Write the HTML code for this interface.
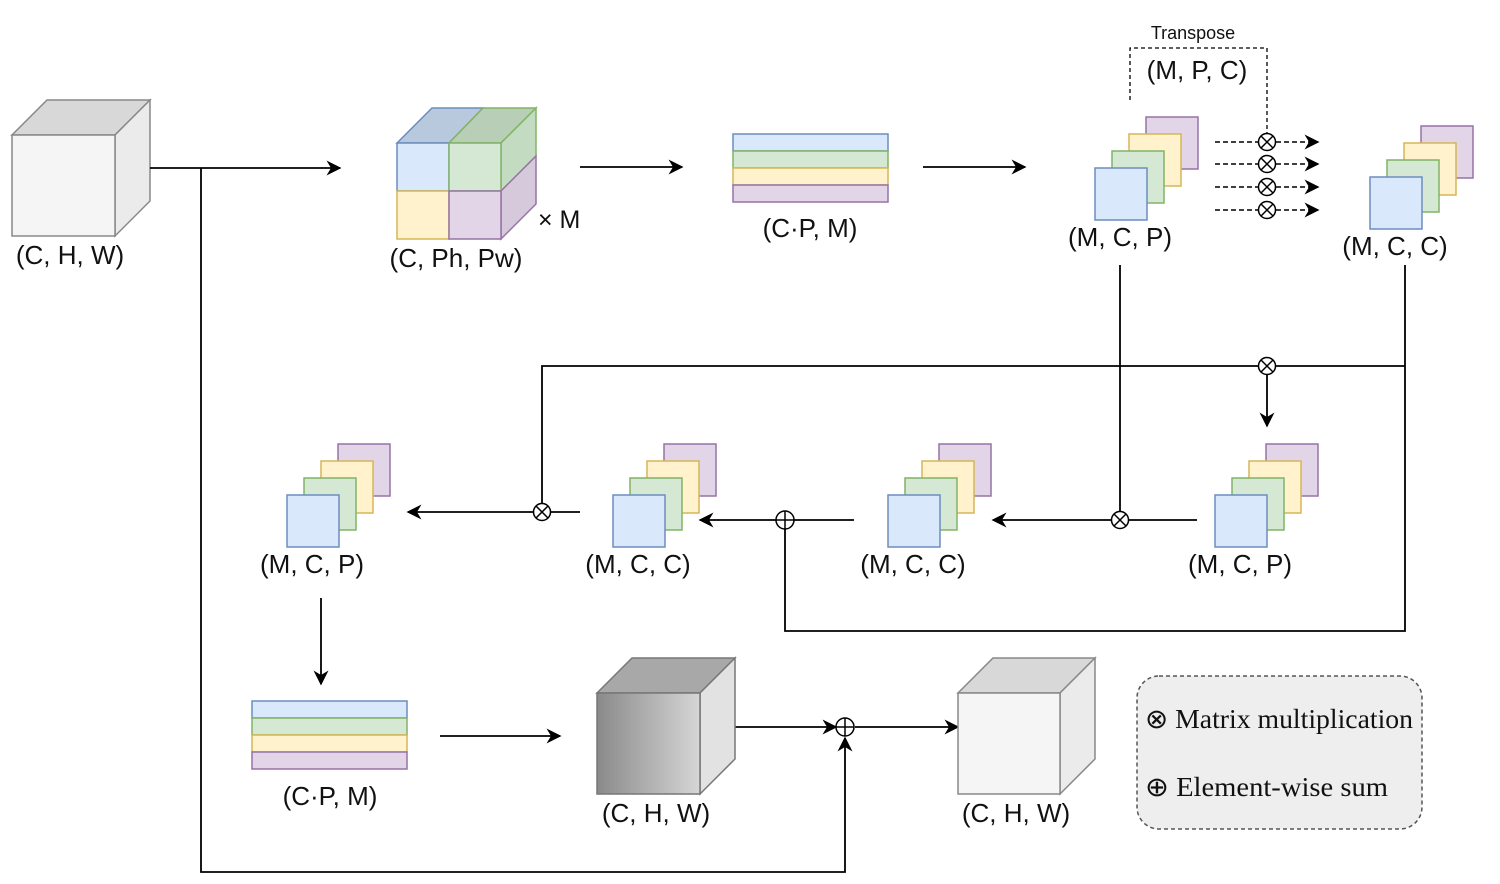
<!DOCTYPE html>
<html><head><meta charset="utf-8"><style>
html,body{margin:0;padding:0;background:#fff;}
svg{display:block;}
text{font-family:"Liberation Sans",Arial,sans-serif;fill:#111;}
</style></head><body>
<svg width="1500" height="884" viewBox="0 0 1500 884" xmlns="http://www.w3.org/2000/svg">
<defs>
<marker id="ar" viewBox="0 0 10 10" refX="9" refY="5" markerWidth="15" markerHeight="15" markerUnits="userSpaceOnUse" orient="auto"><path d="M0,0 L10,5 L0,10 L3,5 z" fill="#000"/></marker>
<linearGradient id="gg" x1="0" x2="1" y1="0" y2="0"><stop offset="0" stop-color="#8a8a8a"/><stop offset="1" stop-color="#d6d6d6"/></linearGradient>
<g id="stack">
<rect x="51" y="-51" width="52" height="52" fill="#e1d5e7" stroke="#9673a6" stroke-width="1.5"/>
<rect x="34" y="-34" width="52" height="52" fill="#fff2cc" stroke="#d6b656" stroke-width="1.5"/>
<rect x="17" y="-17" width="52" height="52" fill="#d5e8d4" stroke="#82b366" stroke-width="1.5"/>
<rect x="0" y="0" width="52" height="52" fill="#dae8fc" stroke="#6c8ebf" stroke-width="1.5"/>
</g>
<g id="mul"><circle r="8.5" fill="#fff" stroke="#000" stroke-width="1.5"/><path d="M-6,-6 L6,6 M-6,6 L6,-6" stroke="#000" stroke-width="1.5"/></g>
<g id="add"><circle r="9" fill="#fff" stroke="#000" stroke-width="1.5"/><path d="M-9,0 L9,0 M0,-9 L0,9" stroke="#000" stroke-width="1.5"/></g>
<g id="bar">
<rect x="0" y="0" width="155" height="17" fill="#dae8fc" stroke="#6c8ebf" stroke-width="1.5"/>
<rect x="0" y="17" width="155" height="17" fill="#d5e8d4" stroke="#82b366" stroke-width="1.5"/>
<rect x="0" y="34" width="155" height="17" fill="#fff2cc" stroke="#d6b656" stroke-width="1.5"/>
<rect x="0" y="51" width="155" height="17" fill="#e1d5e7" stroke="#9673a6" stroke-width="1.5"/>
</g>
</defs>

<g stroke="#888" stroke-width="1.5">
<path d="M12,135 L47,100 L150,100 L115,135 z" fill="#d8d8d8"/>
<path d="M115,135 L150,100 L150,201 L115,236 z" fill="#ebebeb"/>
<rect x="12" y="135" width="103" height="101" fill="#f5f5f5"/>
</g>
<text x="70" y="264" font-size="26" text-anchor="middle">(C, H, W)</text>

<g stroke-width="1.5">
<path d="M397,143 L432,108 L483,108 L449,143 z" fill="#b8c9de" stroke="#6c8ebf"/>
<path d="M449,143 L483,108 L536,108 L501,143 z" fill="#b9ceb6" stroke="#82b366"/>
<path d="M501,143 L536,108 L536,156 L501,191 z" fill="#c3dcc1" stroke="#82b366"/>
<path d="M501,191 L536,156 L536,204 L501,239 z" fill="#d6c9dc" stroke="#9673a6"/>
<rect x="397" y="143" width="52" height="48" fill="#dae8fc" stroke="#6c8ebf"/>
<rect x="449" y="143" width="52" height="48" fill="#d5e8d4" stroke="#82b366"/>
<rect x="397" y="191" width="52" height="48" fill="#fff2cc" stroke="#d6b656"/>
<rect x="449" y="191" width="52" height="48" fill="#e1d5e7" stroke="#9673a6"/>
</g>
<text x="538" y="228" font-size="25">× M</text>
<text x="456" y="267" font-size="26" text-anchor="middle">(C, Ph, Pw)</text>

<use href="#bar" x="733" y="134"/>
<text x="810" y="237" font-size="26" text-anchor="middle">(C·P, M)</text>

<use href="#stack" x="1095" y="168"/>
<text x="1120" y="246" font-size="26" text-anchor="middle">(M, C, P)</text>
<use href="#stack" x="1370" y="177"/>
<text x="1395" y="255" font-size="26" text-anchor="middle">(M, C, C)</text>

<path d="M1130,100 L1130,48 L1267,48 L1267,133" fill="none" stroke="#000" stroke-width="1.3" stroke-dasharray="4,3"/>
<text x="1193" y="39" font-size="18" text-anchor="middle">Transpose</text>
<text x="1197" y="79" font-size="26" text-anchor="middle">(M, P, C)</text>
<g stroke="#000" stroke-width="1.5" stroke-dasharray="5,3">
<path d="M1215,142 L1258,142 M1215,164 L1258,164 M1215,187 L1258,187 M1215,210 L1258,210"/>
<path d="M1276,142 L1318,142" marker-end="url(#ar)"/>
<path d="M1276,164 L1318,164" marker-end="url(#ar)"/>
<path d="M1276,187 L1318,187" marker-end="url(#ar)"/>
<path d="M1276,210 L1318,210" marker-end="url(#ar)"/>
</g>
<use href="#mul" x="1267" y="142"/><use href="#mul" x="1267" y="164"/><use href="#mul" x="1267" y="187"/><use href="#mul" x="1267" y="210"/>

<g fill="none" stroke="#000" stroke-width="1.8">
<path d="M150,168 L340,168" marker-end="url(#ar)"/>
<path d="M201,168 L201,872 L845,872 L845,738" marker-end="url(#ar)"/>
<path d="M580,167 L682,167" marker-end="url(#ar)"/>
<path d="M923,167 L1025,167" marker-end="url(#ar)"/>
<path d="M1120,265 L1120,520"/>
<path d="M1197,520 L993,520" marker-end="url(#ar)"/>
<path d="M1405,265 L1405,631 L785,631 L785,520"/>
<path d="M1405,366 L542,366 L542,512"/>
<path d="M1267,366 L1267,426" marker-end="url(#ar)"/>
<path d="M854,520 L700,520" marker-end="url(#ar)"/>
<path d="M580,512 L408,512" marker-end="url(#ar)"/>
<path d="M321,598 L321,684" marker-end="url(#ar)"/>
<path d="M440,736 L560,736" marker-end="url(#ar)"/>
<path d="M735,727 L836,727" marker-end="url(#ar)"/>
<path d="M855,727 L958,727" marker-end="url(#ar)"/>
</g>
<use href="#mul" x="1267" y="366"/>
<use href="#mul" x="1120" y="520"/>
<use href="#mul" x="542" y="512"/>
<use href="#add" x="785" y="520"/>
<use href="#add" x="845" y="727"/>

<use href="#stack" x="287" y="495"/>
<text x="312" y="573" font-size="26" text-anchor="middle">(M, C, P)</text>
<use href="#stack" x="613" y="495"/>
<text x="638" y="573" font-size="26" text-anchor="middle">(M, C, C)</text>
<use href="#stack" x="888" y="495"/>
<text x="913" y="573" font-size="26" text-anchor="middle">(M, C, C)</text>
<use href="#stack" x="1215" y="495"/>
<text x="1240" y="573" font-size="26" text-anchor="middle">(M, C, P)</text>

<use href="#bar" x="252" y="701"/>
<text x="330" y="805" font-size="26" text-anchor="middle">(C·P, M)</text>

<g stroke="#777" stroke-width="1.5">
<path d="M597,693 L632,658 L735,658 L700,693 z" fill="#a8a8a8"/>
<path d="M700,693 L735,658 L735,759 L700,794 z" fill="#e2e2e2"/>
<rect x="597" y="693" width="103" height="101" fill="url(#gg)"/>
</g>
<text x="656" y="822" font-size="26" text-anchor="middle">(C, H, W)</text>

<g stroke="#888" stroke-width="1.5">
<path d="M958,693 L993,658 L1095,658 L1060,693 z" fill="#d8d8d8"/>
<path d="M1060,693 L1095,658 L1095,759 L1060,794 z" fill="#ebebeb"/>
<rect x="958" y="693" width="102" height="101" fill="#f5f5f5"/>
</g>
<text x="1016" y="822" font-size="26" text-anchor="middle">(C, H, W)</text>

<rect x="1137" y="676" width="285" height="153" rx="22" fill="#eeeeee" stroke="#555" stroke-width="1.5" stroke-dasharray="4,3"/>
<text x="1145" y="728" font-size="27" style="font-family:'Liberation Serif',serif" textLength="268" lengthAdjust="spacingAndGlyphs">⊗ Matrix multiplication</text>
<text x="1145" y="796" font-size="27" style="font-family:'Liberation Serif',serif" textLength="243" lengthAdjust="spacingAndGlyphs">⊕  Element-wise sum</text>
</svg>
</body></html>
